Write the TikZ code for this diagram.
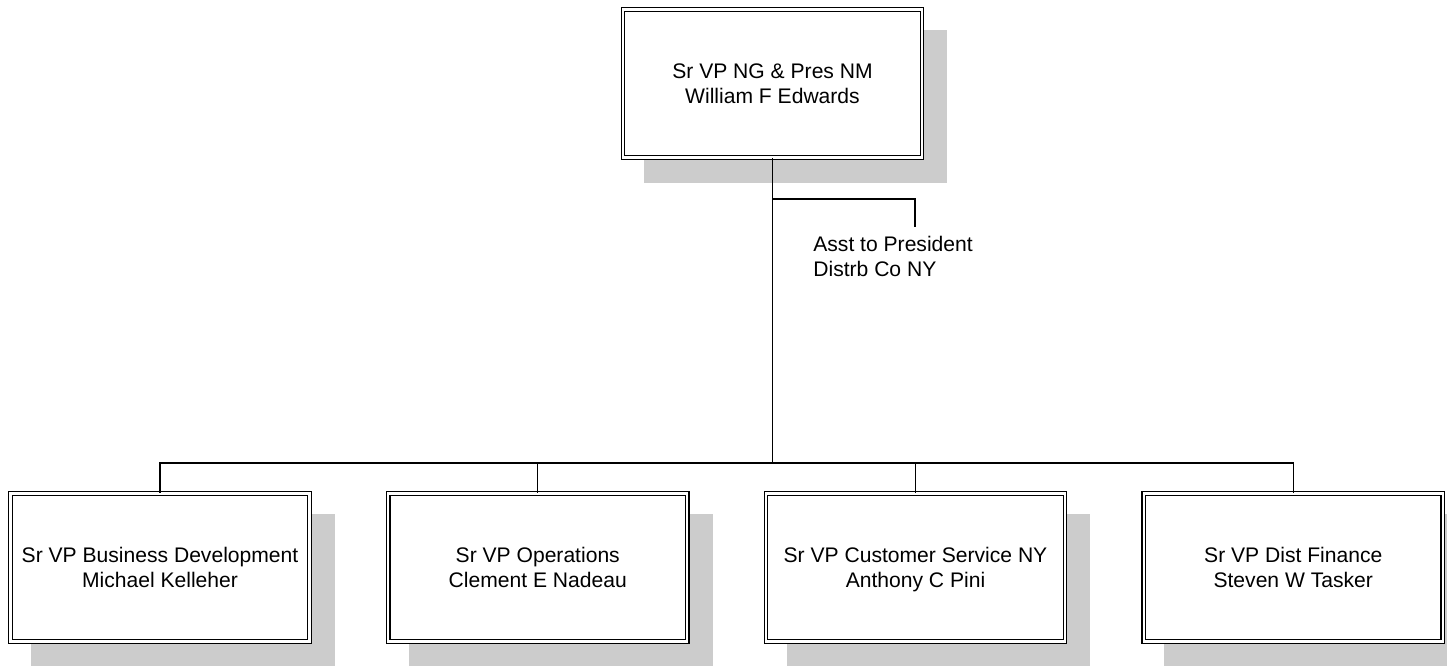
\documentclass[tikz,border=0pt]{standalone}
\usepackage{fontspec}
\setmainfont{Liberation Sans}
\usetikzlibrary{shadows}
\begin{document}
\begin{tikzpicture}[node distance=7.555cm, every node/.style={font=\fontsize{12}{14.2}\selectfont},
    box/.style={draw, double, line width=0.75pt, double distance=1.3pt, fill=white, align=center,
        minimum width=5.98cm, minimum height=2.96cm, inner sep=0pt, text depth=0pt,
        drop shadow={shadow xshift=0.46cm, shadow yshift=-0.46cm, fill=black!20, draw=black!20, line width=2.8pt, opacity=1}},
    link/.style={line width=0.75pt}]
    \useasboundingbox (0,0) rectangle (28.94,-13.32);

    % Nodes
    \node (top) [box] at (15.45,-1.67) {Sr VP NG \& Pres NM\\William F Edwards};
    \node (b1) [box] at (3.2,-11.35) {Sr VP Business Development\\Michael Kelleher};
    \node (b2) [{right of=b1, box}] {Sr VP Operations\\Clement E Nadeau};
    \node (b3) [{right of=b2, box}] {Sr VP Customer Service NY\\Anthony C Pini};
    \node (b4) [{right of=b3, box}] {Sr VP Dist Finance\\Steven W Tasker};
    \node (asst) [anchor=north west, align=left, inner sep=0pt] at (16.26,-4.72) {Asst to President\\Distrb Co NY};

    % Bend points of the connectors
    \coordinate (bus) at (15.45,-9.26);
    \coordinate (fork) at (15.45,-3.98);
    \coordinate (asstend) at (18.3,-4.54);

    % Connecting lines
    \draw[link] (top) -- (bus);
    \draw[link] (fork) -| (asstend);
    \foreach \b in {b1,b2,b3,b4}
        \draw[link] (bus) -| (\b);
\end{tikzpicture}
\end{document}
